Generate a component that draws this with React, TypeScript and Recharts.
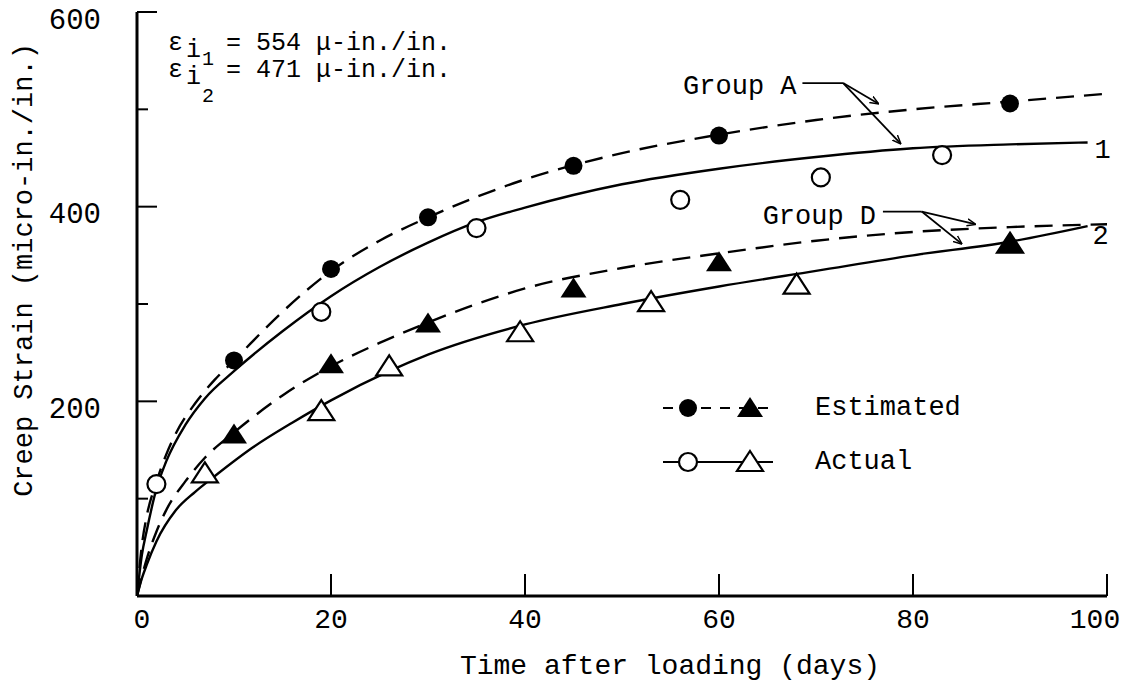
import React from "react";
import {
  ComposedChart,
  Line,
  Scatter,
  XAxis,
  YAxis,
  ReferenceLine,
  ReferenceDot,
} from "recharts";

const FONT = "'Liberation Mono', 'DejaVu Sans Mono', monospace";

// fitted curves, [day, strain]
const groupAEstimatedCurve = [
  [0, 0], [0.5, 52], [1, 82], [2, 117], [3, 145], [4, 167], [6, 198], [8, 222],
  [10, 242], [15, 292], [20, 334], [25, 365], [30, 389], [35, 410], [40, 428],
  [50, 455], [60, 474], [70, 489], [80, 500], [90, 508], [100, 516],
];
const groupAActualCurve = [
  [0, 0], [0.5, 42], [1, 67], [2, 110], [3, 138], [5, 176], [7, 203], [10, 231],
  [15, 272], [20, 308], [25, 338], [30, 363], [35, 384], [40, 399], [50, 423],
  [60, 439], [70, 451], [80, 460], [90, 464], [98, 466],
];
const groupDEstimatedCurve = [
  [0, 0], [1, 38], [2, 66], [3, 88], [5, 118], [7, 142], [10, 168], [15, 206],
  [20, 236], [25, 260], [30, 281], [35, 300], [40, 316], [50, 337], [60, 352],
  [70, 365], [80, 374], [90, 379], [100, 382],
];
const groupDActualCurve = [
  [0, 0], [0.5, 18], [1, 32], [2, 56], [4, 88], [6, 107], [8, 123], [12, 153],
  [16, 178], [20, 201], [26, 231], [30, 248], [40, 279], [50, 300], [60, 318],
  [70, 334], [80, 350], [90, 364], [98, 380],
];

// measured points
const groupAEstimatedPoints = [[10, 242], [20, 336], [30, 389], [45, 442], [60, 473], [90, 506]];
const groupAActualPoints = [[2, 115], [19, 292], [35, 378], [56, 407], [70.5, 430], [83, 453]];
const groupDEstimatedPoints = [[10, 166], [20, 238], [30, 280], [45, 316], [60, 343], [90, 362]];
const groupDActualPoints = [[7, 126], [19, 190], [26, 236], [39.5, 271], [53, 302], [68, 320], [90, 362]];

const xTicks = [0, 20, 40, 60, 80, 100];
const yTicks = [100, 200, 300, 400, 500, 600];

const toRows = (pairs: number[][]) => pairs.map(([day, strain]) => ({ day, strain }));

const FilledCircle = ({ cx, cy }: any) => <circle cx={cx} cy={cy} r={9} fill="#000" />;
const OpenCircle = ({ cx, cy }: any) => (
  <circle cx={cx} cy={cy} r={9} fill="#fff" stroke="#000" strokeWidth={2.2} />
);
const tri = (cx: number, cy: number) =>
  `${cx},${cy - 11} ${cx + 13},${cy + 9} ${cx - 13},${cy + 9}`;
const FilledTriangle = ({ cx, cy }: any) => <polygon points={tri(cx, cy)} fill="#000" />;
const OpenTriangle = ({ cx, cy }: any) => (
  <polygon points={tri(cx, cy)} fill="#fff" stroke="#000" strokeWidth={2.2} />
);

const YTick = ({ x, y, payload }: any) => {
  const v = payload.value;
  const major = v % 200 === 0;
  return (
    <g>
      <line x1={x} x2={x + (major ? 20 : 11)} y1={y} y2={y} stroke="#000" strokeWidth={2} />
      {major && (
        <text x={x - 36} y={y + 9} textAnchor="end" dominantBaseline="central"
          fontFamily={FONT} fontSize={29} fill="#000">
          {v}
        </text>
      )}
    </g>
  );
};

const XTick = ({ x, y, payload }: any) => {
  const v = payload.value;
  const dx = v === 0 ? 5 : v === 100 ? -12 : 0;
  return (
    <g>
      {v !== 0 && <line x1={x} x2={x} y1={y} y2={y - 22} stroke="#000" strokeWidth={2} />}
      <text x={x + dx} y={y + 24} textAnchor="middle" dominantBaseline="central"
        fontFamily={FONT} fontSize={28} fill="#000">
        {v}
      </text>
    </g>
  );
};

const Arrow = (props: any) => (
  <line x1={props.x1} y1={props.y1} x2={props.x2} y2={props.y2}
    stroke="#000" strokeWidth={1.8} markerEnd="url(#arrowHead)" />
);
const Plain = (props: any) => (
  <line x1={props.x1} y1={props.y1} x2={props.x2} y2={props.y2} stroke="#000" strokeWidth={1.8} />
);

const textStyle = { fontFamily: FONT, fill: "#000" };

export default function App() {
  return (
    <div style={{ position: "absolute", left: 0, top: 0, background: "#fff" }}>
      <ComposedChart width={1128} height={680} margin={{ top: 12, right: 21, bottom: 0, left: 0 }}>
        <defs>
          <marker id="arrowHead" viewBox="0 0 10 10" refX="9" refY="5" markerWidth="9"
            markerHeight="9" orient="auto" markerUnits="userSpaceOnUse">
            <path d="M0,1 L10,5 L0,9" fill="none" stroke="#000" strokeWidth={1.6} />
          </marker>
        </defs>
        <XAxis type="number" dataKey="day" domain={[0, 100]} ticks={xTicks} height={84}
          allowDataOverflow axisLine={{ stroke: "#000", strokeWidth: 3 }} tickLine={false}
          tickSize={0} tickMargin={0} tick={<XTick />} interval={0} />
        <YAxis type="number" dataKey="strain" domain={[0, 600]} ticks={yTicks} width={137}
          allowDataOverflow axisLine={{ stroke: "#000", strokeWidth: 3 }} tickLine={false}
          tickSize={0} tickMargin={0} tick={<YTick />} interval={0} />

        <Line data={toRows(groupAEstimatedCurve)} dataKey="strain" type="monotone" dot={false}
          stroke="#000" strokeWidth={2.4} strokeDasharray="18 10" isAnimationActive={false} />
        <Line data={toRows(groupAActualCurve)} dataKey="strain" type="monotone" dot={false}
          stroke="#000" strokeWidth={2.4} isAnimationActive={false} />
        <Line data={toRows(groupDEstimatedCurve)} dataKey="strain" type="monotone" dot={false}
          stroke="#000" strokeWidth={2.4} strokeDasharray="18 10" isAnimationActive={false} />
        <Line data={toRows(groupDActualCurve)} dataKey="strain" type="monotone" dot={false}
          stroke="#000" strokeWidth={2.4} isAnimationActive={false} />

        <Scatter data={toRows(groupAActualPoints)} dataKey="strain" shape={<OpenCircle />} isAnimationActive={false} />
        <Scatter data={toRows(groupDActualPoints)} dataKey="strain" shape={<OpenTriangle />} isAnimationActive={false} />
        <Scatter data={toRows(groupAEstimatedPoints)} dataKey="strain" shape={<FilledCircle />} isAnimationActive={false} />
        <Scatter data={toRows(groupDEstimatedPoints)} dataKey="strain" shape={<FilledTriangle />} isAnimationActive={false} />

        {/* Group A annotation */}
        <ReferenceLine segment={[{ x: 68.6, y: 527 }, { x: 72.8, y: 527 }]} shape={<Plain />} />
        <ReferenceLine segment={[{ x: 72.8, y: 527 }, { x: 76.4, y: 506 }]} shape={<Arrow />} />
        <ReferenceLine segment={[{ x: 72.8, y: 527 }, { x: 78.7, y: 465 }]} shape={<Arrow />} />
        {/* Group D annotation */}
        <ReferenceLine segment={[{ x: 76.9, y: 395 }, { x: 80.9, y: 395 }]} shape={<Plain />} />
        <ReferenceLine segment={[{ x: 80.9, y: 395 }, { x: 86.4, y: 382 }]} shape={<Arrow />} />
        <ReferenceLine segment={[{ x: 80.9, y: 395 }, { x: 85, y: 362 }]} shape={<Arrow />} />

        <ReferenceDot x={56.3} y={526} r={0} fill="none" stroke="none"
          label={{ value: "Group A", position: "right", offset: 0, style: { ...textStyle, fontSize: 27 } }} />
        <ReferenceDot x={64.5} y={392} r={0} fill="none" stroke="none"
          label={{ value: "Group D", position: "right", offset: 0, style: { ...textStyle, fontSize: 27 } }} />
        <ReferenceDot x={98.5} y={460} r={0} fill="none" stroke="none"
          label={{ value: "1", position: "right", offset: 2, style: { ...textStyle, fontSize: 27 } }} />
        <ReferenceDot x={98.3} y={371} r={0} fill="none" stroke="none"
          label={{ value: "2", position: "right", offset: 2, style: { ...textStyle, fontSize: 27 } }} />

        {/* legend */}
        <g transform="translate(655, 380)">
          <line x1={8} x2={118} y1={28} y2={28} stroke="#000" strokeWidth={2.2} strokeDasharray="10 9" />
          <circle cx={33} cy={28} r={9} fill="#000" />
          <polygon points={tri(95, 28)} fill="#000" />
          <text x={160} y={28} dominantBaseline="central" fontFamily={FONT} fontSize={27}>Estimated</text>
          <line x1={8} x2={118} y1={82} y2={82} stroke="#000" strokeWidth={2} />
          <circle cx={33} cy={82} r={9} fill="#fff" stroke="#000" strokeWidth={2.2} />
          <polygon points={tri(95, 82)} fill="#fff" stroke="#000" strokeWidth={2.2} />
          <text x={160} y={82} dominantBaseline="central" fontFamily={FONT} fontSize={27}>Actual</text>
        </g>

        {/* initial strain note */}
        <g style={{ fontFamily: FONT, fontSize: 25 }} fill="#000">
          <text x={168} y={43} dominantBaseline="central">ε</text>
          <text x={186} y={50} dominantBaseline="central">i</text>
          <text x={226} y={43} dominantBaseline="central">= 554 μ-in./in.</text>
          <text x={168} y={70} dominantBaseline="central">ε</text>
          <text x={186} y={77} dominantBaseline="central">i</text>
          <text x={202} y={59} dominantBaseline="central" fontSize={20}>1</text>
          <text x={202} y={96} dominantBaseline="central" fontSize={20}>2</text>
          <text x={226} y={70} dominantBaseline="central">= 471 μ-in./in.</text>
        </g>

        <text x={25} y={270} transform="rotate(-90 25 270)" textAnchor="middle"
          dominantBaseline="central" fontFamily={FONT} fontSize={27} fill="#000">
          Creep Strain (micro-in./in.)
        </text>
        <text x={670} y={666} textAnchor="middle" dominantBaseline="central"
          fontFamily={FONT} fontSize={28} fill="#000">
          Time after loading (days)
        </text>
      </ComposedChart>
    </div>
  );
}
